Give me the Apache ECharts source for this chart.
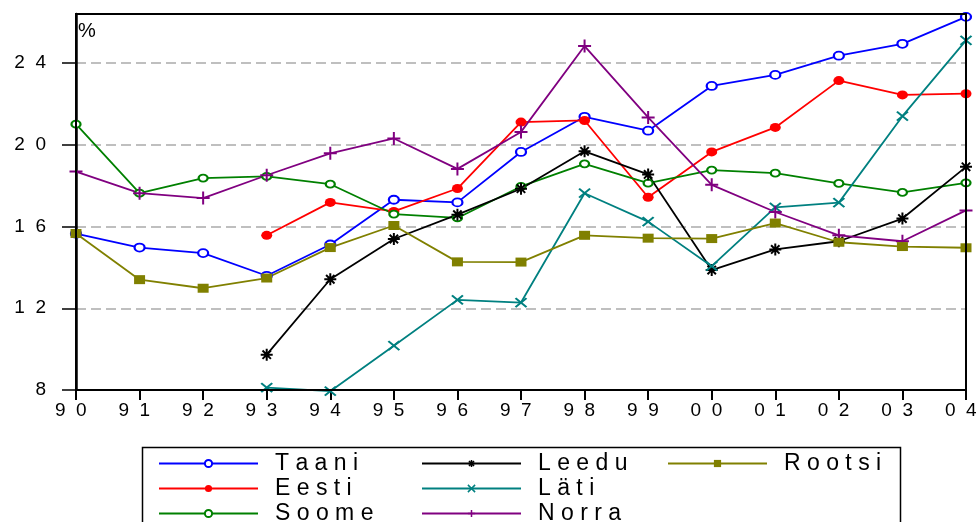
<!DOCTYPE html>
<html>
<head>
<meta charset="utf-8">
<script src="https://cdn.jsdelivr.net/npm/echarts@6/dist/echarts.min.js"></script>
<style>html,body{margin:0;padding:0;background:#fff;overflow:hidden}#c{width:978px;height:522px}</style>
</head>
<body>
<div id="c"></div>
<script>
const years = ['90','91','92','93','94','95','96','97','98','99','00','01','02','03','04'];
const taani  = [15.65,14.97,14.70,13.59,15.12,17.31,17.18,19.65,21.37,20.69,22.88,23.42,24.36,24.94,26.26];
const eesti  = [null,null,null,15.57,17.18,16.74,17.86,21.11,21.19,17.43,19.65,20.85,23.14,22.44,22.50];
const soome  = [21.01,17.63,18.37,18.45,18.07,16.61,16.42,17.96,19.07,18.12,18.76,18.61,18.11,17.67,18.14];
const leedu  = [null,null,null,9.73,13.42,15.39,16.58,17.85,19.68,18.55,13.87,14.88,15.28,16.39,18.92];
const rootsi = [15.66,13.40,12.98,13.48,14.97,16.05,14.27,14.26,15.57,15.43,15.41,16.17,15.23,15.02,14.96];
const lati   = [null,null,null,8.12,7.94,10.17,12.41,12.28,17.63,16.24,14.06,16.94,17.17,21.40,25.11];
const norra  = [18.69,17.63,17.39,18.51,19.58,20.31,18.82,20.63,24.83,21.34,18.04,16.71,15.57,15.28,16.79];
const yTicks = [8,12,16,20,24];

const FONT = 'Liberation Sans';
const sp = s => String(s).split('').join('  ');

const P_AST = 'path://M0 5 L10 5 M5 0 L5 10 M1.5 1.5 L8.5 8.5 M8.5 1.5 L1.5 8.5';
const P_X = 'path://M0 0 L10 10 M10 0 L0 10';
const P_PLUS = 'path://M0 5 L10 5 M5 0 L5 10';

function mk(name, data, color, symbol, size, stroke) {
  const it = (stroke || symbol === 'emptyCircle')
    ? {color: color, borderColor: color, borderWidth: 2}
    : {color: color};
  return {
    name: name, type: 'line', data: data, connectNulls: false,
    symbol: symbol, symbolSize: size, showAllSymbol: true, clip: false,
    lineStyle: {color: color, width: 1.8},
    itemStyle: it,
    emphasis: {disabled: true},
    z: 3
  };
}

const series = [
  mk('Taani', taani, '#0000ff', 'emptyCircle', [10, 8]),
  mk('Eesti', eesti, '#ff0000', 'circle', [11, 9]),
  mk('Soome', soome, '#008000', 'emptyCircle', [9, 7]),
  mk('Leedu', leedu, '#000000', P_AST, [12, 12], true),
  mk('Läti', lati, '#008080', P_X, [11, 9], true),
  mk('Norra', norra, '#800080', P_PLUS, [13, 13], true),
  mk('Rootsi', rootsi, '#808000', 'rect', [11, 9])
];

function legend(left, names) {
  return {
    orient: 'vertical', left: left, top: 452, height: 120, padding: 0,
    itemWidth: 99, itemHeight: 9, itemGap: 2,
    selectedMode: false,
    data: names.map(n => {
      const s = series.find(x => x.name === n);
      return {name: n, itemStyle: Object.assign({}, s.itemStyle, {borderWidth: 1.5})};
    }),
    formatter: n => n.split('').join(' '),
    textStyle: {fontFamily: FONT, fontSize: 23, color: '#000', lineHeight: 16, padding: [0, 0, 0, 12]}
  };
}

const chart = echarts.init(document.getElementById('c'), null, {renderer: 'canvas'});
chart.setOption({
  animation: false,
  backgroundColor: '#fff',
  grid: {left: 76, right: 12, top: 14, bottom: 132, containLabel: false, outerBoundsMode: 'none',
         show: true, borderColor: '#000', borderWidth: 2, backgroundColor: 'transparent', z: 5},
  xAxis: {
    type: 'category', data: years, boundaryGap: false,
    axisLine: {lineStyle: {color: '#000', width: 2}},
    axisTick: {show: true, length: 10, lineStyle: {color: '#000', width: 2}, alignWithLabel: true},
    axisLabel: {formatter: v => sp(v) + '  ', fontFamily: FONT, fontSize: 19, color: '#000', margin: 11, hideOverlap: false},
    splitLine: {show: false}
  },
  yAxis: {
    type: 'value', min: 8, max: 26.4, interval: 4,
    axisLine: {show: true, lineStyle: {color: '#000', width: 2.5}},
    axisTick: {show: true, length: 14, lineStyle: {color: '#000', width: 1.5}},
    axisLabel: {formatter: v => (yTicks.indexOf(v) >= 0 ? sp(v) : ''), showMaxLabel: false, fontFamily: FONT, fontSize: 19, color: '#000', margin: 30},
    splitLine: {show: true, lineStyle: {color: '#aaaaaa', width: 1.5, type: [10, 5]}}
  },
  legend: [
    legend(158, ['Taani', 'Eesti', 'Soome']),
    legend(421, ['Leedu', 'Läti', 'Norra']),
    legend(667, ['Rootsi'])
  ],
  graphic: [
    {type: 'rect', left: 140, top: 445, shape: {width: 758, height: 100}, style: {fill: 'none', stroke: '#000', lineWidth: 1.5}, z: 0, silent: true},
    {type: 'text', left: 78, top: 21, style: {text: '%', fontFamily: FONT, fontSize: 20, fill: '#000'}, silent: true}
  ],
  series: series
});
</script>
</body>
</html>
